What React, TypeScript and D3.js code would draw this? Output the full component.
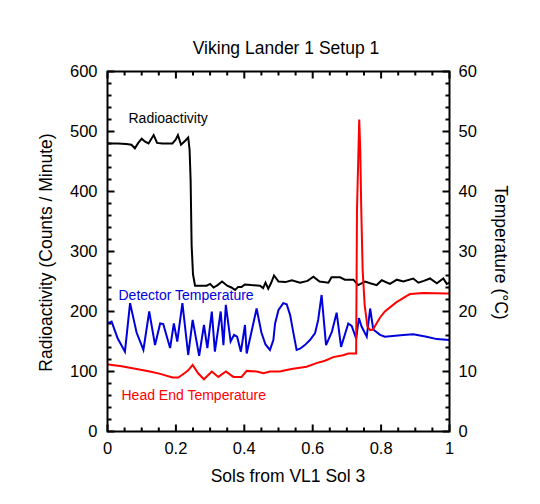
import React, { useEffect, useRef } from "react";
import * as d3 from "d3";

const WIDTH = 540;
const HEIGHT = 504;
const MARGIN = { top: 71.5, right: 90.5, bottom: 72.5, left: 107.5 };
const FONT = "'Liberation Sans', Arial, Helvetica, sans-serif";

// [sols, counts / minute] - left axis
const radioactivity: [number, number][] = [
  [0, 480], [0.03, 480], [0.055, 479], [0.07, 478], [0.08, 472], [0.09, 481],
  [0.1, 488], [0.11, 483], [0.12, 480], [0.135, 494], [0.145, 481], [0.16, 480],
  [0.19, 480], [0.2, 487], [0.206, 494], [0.215, 478], [0.228, 485], [0.236, 490],
  [0.24, 470], [0.243, 420], [0.246, 310], [0.25, 262], [0.256, 243], [0.27, 243],
  [0.29, 243], [0.3, 246], [0.31, 240], [0.322, 244], [0.335, 250], [0.35, 243],
  [0.362, 240], [0.373, 236], [0.382, 241], [0.392, 241], [0.402, 245], [0.42, 244],
  [0.446, 243], [0.455, 239], [0.462, 248], [0.47, 238], [0.478, 247], [0.487, 260],
  [0.5, 250], [0.52, 249], [0.539, 252], [0.563, 248], [0.585, 251], [0.602, 258],
  [0.62, 250], [0.646, 248], [0.655, 257], [0.68, 257], [0.694, 253], [0.719, 253],
  [0.733, 244], [0.753, 250], [0.768, 247], [0.787, 244], [0.802, 252], [0.826, 246],
  [0.846, 253], [0.865, 250], [0.894, 255], [0.909, 248], [0.925, 251], [0.943, 255],
  [0.963, 247], [0.982, 255], [0.992, 246], [1.0, 248],
];

// [sols, °C] - right axis
const detectorTemperature: [number, number][] = [
  [0, 18.0], [0.012, 18.3], [0.03, 15.5], [0.051, 13.3], [0.066, 21.4], [0.085, 16.5],
  [0.105, 13.6], [0.122, 20.0], [0.139, 14.4], [0.154, 18.0], [0.163, 17.9], [0.183, 13.9],
  [0.194, 18.0], [0.204, 15.0], [0.219, 21.4], [0.236, 12.75], [0.249, 18.6], [0.268, 12.6],
  [0.282, 17.75], [0.292, 13.9], [0.305, 20], [0.314, 13.3], [0.331, 20], [0.339, 14.4],
  [0.346, 21.1], [0.36, 15.0], [0.37, 16.1], [0.379, 15.8], [0.39, 13.3], [0.402, 17.75],
  [0.407, 13.0], [0.436, 20.5], [0.45, 16.5], [0.462, 14.5], [0.475, 13.6], [0.485, 15.25],
  [0.49, 18], [0.5, 20.25], [0.514, 21.4], [0.524, 21.2], [0.534, 19.4], [0.543, 16.6],
  [0.553, 13.6], [0.563, 13.8], [0.577, 14.4], [0.592, 15.25], [0.607, 16.4], [0.616, 18.6],
  [0.626, 22.75], [0.639, 14.4], [0.656, 16.6], [0.67, 19.8], [0.683, 14.1], [0.704, 18.0],
  [0.714, 17.6], [0.727, 15.5], [0.735, 18.9], [0.743, 17.5], [0.758, 15.8], [0.768, 20.5],
  [0.777, 17.0], [0.797, 16.1], [0.811, 15.8], [0.865, 16.1], [0.894, 16.2], [0.933, 15.8],
  [0.963, 15.4], [1.0, 15.25],
];

// [sols, °C] - right axis
const headEndTemperature: [number, number][] = [
  [0, 11.2], [0.012, 11.1], [0.037, 10.9], [0.085, 10.4], [0.124, 10.0], [0.154, 9.6],
  [0.19, 9.0], [0.207, 9.0], [0.227, 9.8], [0.236, 10.2], [0.249, 11.1], [0.265, 9.7],
  [0.282, 8.7], [0.305, 10.0], [0.324, 9.1], [0.346, 10.0], [0.368, 9.1], [0.392, 9.1],
  [0.407, 10.1], [0.436, 10.0], [0.456, 9.7], [0.475, 10.0], [0.504, 10.0], [0.52, 10.2],
  [0.538, 10.4], [0.582, 10.8], [0.611, 11.4], [0.636, 11.8], [0.66, 12.4], [0.689, 12.7],
  [0.704, 13.0], [0.727, 13.0], [0.7295, 37], [0.733, 45], [0.736, 52], [0.739, 47],
  [0.742, 37], [0.746, 27], [0.752, 21], [0.76, 17.5], [0.768, 16.9], [0.776, 17.0],
  [0.797, 19.0], [0.811, 20.0], [0.846, 21.6], [0.855, 21.9], [0.875, 22.6], [0.885, 22.9],
  [0.923, 23.1], [0.992, 23.0], [1.0, 23.0],
];

const X_TICKS = [0, 0.2, 0.4, 0.6, 0.8, 1];
const LEFT_TICKS = [0, 100, 200, 300, 400, 500, 600];
const RIGHT_TICKS = [0, 10, 20, 30, 40, 50, 60];

const BLUE = "#0000dd";
const RED = "#ff0000";

export default function App() {
  const ref = useRef<SVGGElement>(null);
  const boundsWidth = WIDTH - MARGIN.left - MARGIN.right;
  const boundsHeight = HEIGHT - MARGIN.top - MARGIN.bottom;

  useEffect(() => {
    const g = d3.select(ref.current);
    g.selectAll("*").remove();

    const xScale = d3.scaleLinear().domain([0, 1]).range([0, boundsWidth]);
    const yLeft = d3.scaleLinear().domain([0, 600]).range([boundsHeight, 0]);
    const yRight = d3.scaleLinear().domain([0, 60]).range([boundsHeight, 0]);

    const tick = (x1: number, y1: number, x2: number, y2: number) =>
      g.append("line")
        .attr("x1", x1).attr("y1", y1).attr("x2", x2).attr("y2", y2)
        .attr("stroke", "black").attr("stroke-width", 2);

    // x ticks, top and bottom, pointing inward
    d3.range(0, 1.0001, 0.05).forEach((v) => {
      const major = X_TICKS.some((t) => Math.abs(t - v) < 1e-6);
      const len = major ? 7 : 4;
      const px = xScale(v);
      tick(px, boundsHeight, px, boundsHeight - len);
      tick(px, 0, px, len);
    });
    // left ticks
    d3.range(0, 600.001, 20).forEach((v) => {
      const len = v % 100 === 0 ? 7 : 4;
      tick(0, yLeft(v), len, yLeft(v));
    });
    // right ticks
    d3.range(0, 60.001, 2).forEach((v) => {
      const len = v % 10 === 0 ? 7 : 4;
      tick(boundsWidth, yRight(v), boundsWidth - len, yRight(v));
    });

    // Lines
    const lineLeft = d3.line<[number, number]>()
      .x((d) => xScale(d[0]))
      .y((d) => yLeft(d[1]));
    const lineRight = d3.line<[number, number]>()
      .x((d) => xScale(d[0]))
      .y((d) => yRight(d[1]));

    g.append("path")
      .attr("d", lineLeft(radioactivity))
      .attr("fill", "none").attr("stroke", "black").attr("stroke-width", 2);
    g.append("path")
      .attr("d", lineRight(detectorTemperature))
      .attr("fill", "none").attr("stroke", BLUE).attr("stroke-width", 2);
    g.append("path")
      .attr("d", lineRight(headEndTemperature))
      .attr("fill", "none").attr("stroke", RED).attr("stroke-width", 2);

    // Frame
    g.append("rect")
      .attr("width", boundsWidth).attr("height", boundsHeight)
      .attr("fill", "none").attr("stroke", "black").attr("stroke-width", 2);

    // Tick labels
    X_TICKS.forEach((v) => {
      g.append("text")
        .attr("x", xScale(v)).attr("y", boundsHeight + 22)
        .attr("text-anchor", "middle")
        .attr("font-size", 16.5).attr("font-family", FONT)
        .text(String(v));
    });
    LEFT_TICKS.forEach((v) => {
      g.append("text")
        .attr("x", -10).attr("y", yLeft(v)).attr("dy", "0.36em")
        .attr("text-anchor", "end")
        .attr("font-size", 16.5).attr("font-family", FONT)
        .text(String(v));
    });
    RIGHT_TICKS.forEach((v) => {
      g.append("text")
        .attr("x", boundsWidth + 9).attr("y", yRight(v)).attr("dy", "0.36em")
        .attr("text-anchor", "start")
        .attr("font-size", 16.5).attr("font-family", FONT)
        .text(String(v));
    });

    // Axis titles
    g.append("text")
      .attr("x", 286 - MARGIN.left).attr("y", 54 - MARGIN.top)
      .attr("text-anchor", "middle")
      .attr("font-size", 17.5).attr("font-family", FONT)
      .text("Viking Lander 1 Setup 1");
    g.append("text")
      .attr("x", 288 - MARGIN.left).attr("y", boundsHeight + 50)
      .attr("text-anchor", "middle")
      .attr("font-size", 17.5).attr("font-family", FONT)
      .text("Sols from VL1 Sol 3");
    g.append("text")
      .attr("transform", `translate(${51.5 - MARGIN.left}, ${boundsHeight / 2 + 1}) rotate(-90)`)
      .attr("text-anchor", "middle")
      .attr("font-size", 17.5).attr("font-family", FONT)
      .text("Radioactivity (Counts / Minute)");
    g.append("text")
      .attr("transform", `translate(${495 - MARGIN.left}, ${boundsHeight / 2 + 1}) rotate(90)`)
      .attr("text-anchor", "middle")
      .attr("font-size", 17.5).attr("font-family", FONT)
      .text("Temperature (°C)");

    // Series labels
    g.append("text")
      .attr("x", 128.5 - MARGIN.left).attr("y", 123 - MARGIN.top)
      .attr("font-size", 14).attr("font-family", FONT).attr("fill", "black")
      .text("Radioactivity");
    g.append("text")
      .attr("x", 118.5 - MARGIN.left).attr("y", 300 - MARGIN.top)
      .attr("font-size", 14).attr("font-family", FONT).attr("fill", BLUE)
      .text("Detector Temperature");
    g.append("text")
      .attr("x", 121.5 - MARGIN.left).attr("y", 400 - MARGIN.top)
      .attr("font-size", 14).attr("font-family", FONT).attr("fill", RED)
      .text("Head End Temperature");

    return () => {
      g.selectAll("*").remove();
    };
  }, [boundsWidth, boundsHeight]);

  return (
    <svg
      width={WIDTH}
      height={HEIGHT}
      style={{ position: "absolute", left: 0, top: 0, background: "white" }}
    >
      <g ref={ref} transform={`translate(${MARGIN.left},${MARGIN.top})`} />
    </svg>
  );
}
